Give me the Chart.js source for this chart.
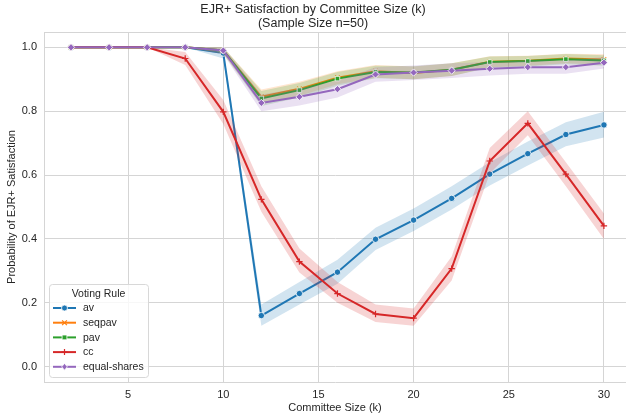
<!DOCTYPE html>
<html>
<head>
<meta charset="utf-8">
<script src="https://cdn.jsdelivr.net/npm/chart.js@4.4.1/dist/chart.umd.min.js"></script>
<style>
  html, body { margin: 0; padding: 0; background: #fff; }
  #wrap { width: 626px; height: 418px; position: relative; }
</style>
</head>
<body>
<div id="wrap"><canvas id="chart" width="626" height="418"></canvas></div>
<script>
// committee sizes (k)
const committeeSizes = [2, 4, 6, 8, 10, 12, 14, 16, 18, 20, 22, 24, 26, 28, 30];
const xTicks = [5, 10, 15, 20, 25, 30];
const yTicks = [0.0, 0.2, 0.4, 0.6, 0.8, 1.0];

// mean probability + confidence band per voting rule
const avMean = [1, 1, 1, 1, 0.982, 0.160, 0.229, 0.296, 0.399, 0.459, 0.527, 0.603, 0.667, 0.727, 0.757];
const avLow  = [1, 1, 1, 1, 0.965, 0.128, 0.195, 0.260, 0.365, 0.425, 0.492, 0.567, 0.630, 0.690, 0.718];
const avHigh = [1, 1, 1, 1, 0.995, 0.195, 0.265, 0.335, 0.435, 0.495, 0.565, 0.640, 0.705, 0.765, 0.798];

const seqpavMean = [1, 1, 1, 1, 0.990, 0.845, 0.870, 0.905, 0.925, 0.920, 0.930, 0.955, 0.958, 0.965, 0.962];
const seqpavLow  = [1, 1, 1, 1, 0.980, 0.822, 0.848, 0.884, 0.905, 0.900, 0.910, 0.938, 0.942, 0.950, 0.946];
const seqpavHigh = [1, 1, 1, 1, 1.000, 0.868, 0.892, 0.925, 0.945, 0.940, 0.950, 0.972, 0.974, 0.980, 0.978];

const pavMean = [1, 1, 1, 1, 0.990, 0.840, 0.866, 0.902, 0.923, 0.921, 0.930, 0.954, 0.957, 0.963, 0.959];
const pavLow  = [1, 1, 1, 1, 0.980, 0.816, 0.843, 0.880, 0.903, 0.900, 0.910, 0.936, 0.940, 0.947, 0.942];
const pavHigh = [1, 1, 1, 1, 1.000, 0.863, 0.888, 0.923, 0.942, 0.941, 0.950, 0.971, 0.973, 0.979, 0.975];

const ccMean = [1, 1, 1, 0.965, 0.798, 0.524, 0.329, 0.229, 0.165, 0.152, 0.307, 0.644, 0.762, 0.603, 0.441];
const ccLow  = [1, 1, 1, 0.945, 0.760, 0.485, 0.295, 0.200, 0.140, 0.128, 0.270, 0.605, 0.725, 0.565, 0.400];
const ccHigh = [1, 1, 1, 0.985, 0.835, 0.565, 0.370, 0.265, 0.195, 0.182, 0.345, 0.685, 0.800, 0.640, 0.480];

const esMean = [1, 1, 1, 1, 0.990, 0.826, 0.845, 0.869, 0.915, 0.921, 0.927, 0.933, 0.938, 0.938, 0.952];
const esLow  = [1, 1, 1, 1, 0.978, 0.800, 0.818, 0.843, 0.892, 0.898, 0.904, 0.912, 0.917, 0.917, 0.934];
const esHigh = [1, 1, 1, 1, 1.000, 0.852, 0.872, 0.895, 0.938, 0.943, 0.950, 0.954, 0.959, 0.959, 0.970];

const ruleNames = ['av', 'seqpav', 'pav', 'cc', 'equal-shares'];
const ruleColors = ['#1f77b4', '#ff7f0e', '#2ca02c', '#d62728', '#9467bd'];
const ruleMarkers = ['circle', 'crossRot', 'rect', 'cross', 'rectRot'];
const ruleData = [
    [avMean, avLow, avHigh],
    [seqpavMean, seqpavLow, seqpavHigh],
    [pavMean, pavLow, pavHigh],
    [ccMean, ccLow, ccHigh],
    [esMean, esLow, esHigh]
];

const FONT = "'Liberation Sans', Arial, sans-serif";
const TEXT = '#262626';
const GRID = '#d5d5d5';

function toPoints(values) {
    return committeeSizes.map((k, i) => ({ x: k, y: values[i] }));
}

function hexAlpha(hex, a) {
    const n = parseInt(hex.slice(1), 16);
    return `rgba(${(n >> 16) & 255}, ${(n >> 8) & 255}, ${n & 255}, ${a})`;
}

// build datasets: lower band, upper band (filled to lower), mean line
const datasets = [];
ruleNames.forEach((name, r) => {
    const [mean, low, high] = ruleData[r];
    const color = ruleColors[r];
    const lineMarker = ruleMarkers[r] === 'cross' || ruleMarkers[r] === 'crossRot';
    datasets.push({
        label: name + ' low', data: toPoints(low),
        borderWidth: 0, borderColor: 'rgba(0,0,0,0)', pointRadius: 0, fill: false
    });
    datasets.push({
        label: name + ' high', data: toPoints(high),
        borderWidth: 0, borderColor: 'rgba(0,0,0,0)', pointRadius: 0,
        fill: '-1', backgroundColor: hexAlpha(color, 0.2)
    });
    datasets.push({
        label: name, data: toPoints(mean),
        borderColor: color, borderWidth: 2, backgroundColor: color,
        pointStyle: ruleMarkers[r],
        pointRadius: ruleMarkers[r] === 'rectRot' ? 3.6 : 3.2,
        pointBackgroundColor: color,
        pointBorderColor: lineMarker ? color : '#ffffff',
        pointBorderWidth: lineMarker ? 1.2 : 0.8,
        fill: false
    });
});
datasets.forEach((d, i) => { d.order = 100 - i; d.tension = 0; });

function drawMarker(ctx, style, x, y, color) {
    ctx.save();
    ctx.fillStyle = color;
    ctx.strokeStyle = color;
    ctx.lineWidth = 1.2;
    ctx.beginPath();
    if (style === 'circle') {
        ctx.arc(x, y, 3, 0, Math.PI * 2);
        ctx.fill();
        ctx.strokeStyle = '#fff'; ctx.lineWidth = 0.8; ctx.stroke();
    } else if (style === 'rect') {
        ctx.rect(x - 2.4, y - 2.4, 4.8, 4.8);
        ctx.fill();
        ctx.strokeStyle = '#fff'; ctx.lineWidth = 0.8; ctx.stroke();
    } else if (style === 'rectRot') {
        ctx.moveTo(x, y - 3.4); ctx.lineTo(x + 2.8, y); ctx.lineTo(x, y + 3.4); ctx.lineTo(x - 2.8, y);
        ctx.closePath(); ctx.fill();
        ctx.strokeStyle = '#fff'; ctx.lineWidth = 0.8; ctx.stroke();
    } else if (style === 'cross') {
        ctx.moveTo(x - 3, y); ctx.lineTo(x + 3, y);
        ctx.moveTo(x, y - 3); ctx.lineTo(x, y + 3);
        ctx.stroke();
    } else if (style === 'crossRot') {
        ctx.moveTo(x - 2.4, y - 2.4); ctx.lineTo(x + 2.4, y + 2.4);
        ctx.moveTo(x + 2.4, y - 2.4); ctx.lineTo(x - 2.4, y + 2.4);
        ctx.stroke();
    }
    ctx.restore();
}

// top spine (Chart.js only draws the axis side); right side is cut off by the figure edge
const frame = {
    id: 'frame',
    beforeDatasetsDraw(chart) {
        const { ctx, chartArea: a } = chart;
        ctx.save();
        ctx.strokeStyle = GRID;
        ctx.lineWidth = 1;
        ctx.beginPath();
        ctx.moveTo(a.left, a.top + 0.5);
        ctx.lineTo(a.right, a.top + 0.5);
        ctx.stroke();
        ctx.restore();
    }
};

// seaborn-like legend box in the lower-left corner of the axes
const innerLegend = {
    id: 'innerLegend',
    afterDraw(chart) {
        const ctx = chart.ctx;
        const area = chart.chartArea;
        const left = area.left + 5, bottom = area.bottom - 5;
        const w = 99, h = 93, top = bottom - h;
        ctx.save();
        ctx.beginPath();
        ctx.roundRect(left + 0.5, top + 0.5, w, h, 3);
        ctx.fillStyle = 'rgba(255,255,255,0.8)';
        ctx.fill();
        ctx.strokeStyle = '#d8d8d8';
        ctx.lineWidth = 1;
        ctx.stroke();
        ctx.fillStyle = TEXT;
        ctx.font = `10.5px ${FONT}`;
        ctx.textAlign = 'center';
        ctx.textBaseline = 'middle';
        ctx.fillText('Voting Rule', left + w / 2, top + 10);
        ctx.textAlign = 'left';
        ruleNames.forEach((name, i) => {
            const y = top + 24 + i * 14.7;
            ctx.strokeStyle = ruleColors[i];
            ctx.lineWidth = 2;
            ctx.beginPath();
            ctx.moveTo(left + 4, y); ctx.lineTo(left + 27, y);
            ctx.stroke();
            drawMarker(ctx, ruleMarkers[i], left + 15.5, y, ruleColors[i]);
            ctx.fillStyle = TEXT;
            ctx.fillText(name, left + 34, y + 0.5);
        });
        ctx.restore();
    }
};

new Chart(document.getElementById('chart'), {
    type: 'line',
    data: { datasets: datasets },
    plugins: [frame, innerLegend],
    options: {
        responsive: false,
        animation: false,
        events: [],
        layout: { autoPadding: false, padding: { left: 0, right: 0, top: 0, bottom: 0 } },
        plugins: {
            legend: { display: false },
            tooltip: { enabled: false },
            title: {
                display: true,
                text: ['EJR+ Satisfaction by Committee Size (k)', '(Sample Size n=50)'],
                color: TEXT,
                font: { family: FONT, size: 12.5, weight: 'normal', lineHeight: 1.12 },
                padding: { top: 3, bottom: 1 }
            }
        },
        scales: {
            x: {
                type: 'linear',
                min: 0.58,
                max: 31.16,
                afterBuildTicks: scale => { scale.ticks = xTicks.map(v => ({ value: v })); },
                afterFit: scale => { scale.height = 36; scale.paddingRight = 0; scale.paddingLeft = 0; },
                grid: { color: GRID, lineWidth: 1, drawTicks: false },
                border: { display: true, color: GRID },
                ticks: { color: TEXT, padding: 6, font: { family: FONT, size: 11 } },
                title: {
                    display: true, text: 'Committee Size (k)', color: TEXT,
                    font: { family: FONT, size: 11 }, padding: { top: 0, bottom: 3 }
                }
            },
            y: {
                min: -0.048,
                max: 1.048,
                afterBuildTicks: scale => { scale.ticks = yTicks.map(v => ({ value: v })); },
                afterFit: scale => { scale.width = 44; scale.paddingTop = 0; scale.paddingBottom = 0; },
                grid: { color: GRID, lineWidth: 1, drawTicks: false },
                border: { display: true, color: GRID },
                ticks: {
                    color: TEXT, padding: 7, font: { family: FONT, size: 11 },
                    callback: v => v.toFixed(1)
                },
                title: {
                    display: true, text: 'Probability of EJR+ Satisfaction', color: TEXT,
                    font: { family: FONT, size: 11 }, padding: { top: 5, bottom: 0 }
                }
            }
        }
    }
});
</script>
</body>
</html>
